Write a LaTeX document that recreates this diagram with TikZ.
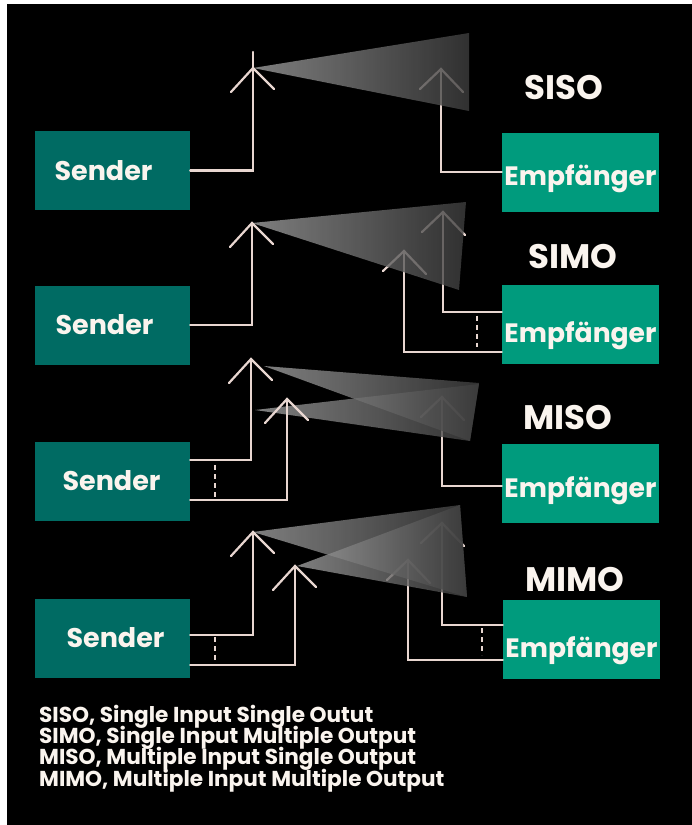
\documentclass[tikz,border=0pt]{standalone}
\usepackage{fontspec}
\setmainfont{Poppins}
\definecolor{senderfarbe}{RGB}{0,107,99}
\definecolor{empffarbe}{RGB}{0,155,125}
\definecolor{leitung}{RGB}{232,214,208}
\definecolor{schrift}{RGB}{250,244,238}
\newcommand\legendenschrift{\fontsize{21.6}{21.2}\selectfont\bfseries\lineskiplimit=-20pt\relax}

\begin{document}
\begin{tikzpicture}[x=1pt, y=-1pt, line cap=round,
	sbox/.style={fill=senderfarbe, minimum width=155pt, minimum height=79pt, inner sep=0pt},
	ebox/.style={sbox, fill=empffarbe, minimum width=157pt},
	sname/.style={text=schrift, inner sep=0pt, font=\fontsize{27}{27}\selectfont\bfseries},
	ename/.style={sname, text depth=0pt, font=\fontsize{26.6}{27}\selectfont\bfseries},
	ant/.style={draw=leitung, line width=2.2pt},
	strich/.style={ant, dash pattern=on 5pt off 4pt, line cap=butt},
	beam/.style={left color=black!38, right color=black!76, fill opacity=0.8},
	mode/.style={text=schrift, font=\fontsize{34}{34}\selectfont\bfseries}]
	% 1. 背景 (白边 + 黑底)
	\fill[white] (0,0) rectangle (692,825);
	\fill[black] (7,4) rectangle (692,825);
	\useasboundingbox (0,0) rectangle (692,825);
	
	% 2. 发送端与接收端方框 (文字略有偏移)
	\node[sbox, label={[sname, xshift=-9pt]center:Sender}] (s1) at (112.5,170.5) {};
	\node[sbox, label={[sname, xshift=-8pt]center:Sender}] (s2) at (112.5,325) {};
	\node[sbox, label={[sname, xshift=-1pt]center:Sender}] (s3) at (112.5,481) {};
	\node[sbox, label={[sname, xshift=3pt]center:Sender}] (s4) at (112.5,638) {};
	\node[ebox, label={[ename, yshift=-3pt]center:Empfänger}] (e1) at (580.5,172) {};
	\node[ebox, label={[ename, yshift=-8pt]center:Empfänger}] (e2) at (580.5,324.5) {};
	\node[ebox, label={[ename, yshift=-4pt]center:Empfänger}] (e3) at (580.5,483) {};
	\node[ebox, label={[ename, yshift=-8pt]center:Empfänger}] (e4) at (581.5,639) {};
	
	% 3. 天线顶点
	\coordinate (t1) at (253,68);
	\coordinate (t2) at (252,223);
	\coordinate (t3a) at (251,359);
	\coordinate (t3b) at (287,399);
	\coordinate (t4a) at (253,532);
	\coordinate (t4b) at (295,566);
	\coordinate (r1) at (441,69);
	\coordinate (r2a) at (443,212);
	\coordinate (r2b) at (404,251);
	\coordinate (r3) at (442,397);
	\coordinate (r4a) at (442,523);
	\coordinate (r4b) at (408,560);
	
	% 4. 接收天线 (在波束下面)
	\draw[ant] (e1.west) -| (r1);
	\draw[ant] ([yshift=12.5pt]e2.west) -| (r2a);
	\draw[ant] ([yshift=-27.5pt]e2.west) -| (r2b);
	\draw[strich] ([xshift=-25pt, yshift=9pt]e2.west) -- ([xshift=-25pt, yshift=-22pt]e2.west);
	\draw[ant] ([yshift=-3pt]e3.west) -| (r3);
	\draw[ant] ([yshift=14pt]e4.west) -| (r4a);
	\draw[ant] ([yshift=-21pt]e4.west) -| (r4b);
	\draw[strich] ([xshift=-21pt, yshift=11pt]e4.west) -- ([xshift=-21pt, yshift=-16pt]e4.west);
	\foreach \a in {r1,r2a,r2b,r3,r4a,r4b}
		\draw[ant] (\a) ++(-21,20) -- (\a) -- ++(22,23);
	
	% 5. 波束
	\shade[beam] (t1) -- (469,33) -- (469,111) -- cycle;
	\shade[beam] (t2) -- (466,202) -- (459,290) -- cycle;
	\shade[beam] ([xshift=13pt, yshift=-7pt]t3a) -- (479,383) -- (470,441) -- cycle;
	\shade[beam] ([xshift=-32pt, yshift=-11pt]t3b) -- (479,384) -- (470,441) -- cycle;
	\shade[beam] (t4a) -- (460,505) -- (467,597) -- cycle;
	\shade[beam] ([xshift=2pt]t4b) -- (460,505) -- (467,597) -- cycle;
	
	% 6. 发射天线与连线
	\draw[ant] (s1.east) -| (t1) -- ++(0,-16);
	\draw[ant] (s2.east) -| (t2);
	\draw[ant] ([yshift=21pt]s3.east) -| (t3a);
	\draw[ant] ([yshift=-19pt]s3.east) -| (t3b);
	\draw[strich] ([xshift=25pt, yshift=16pt]s3.east) -- ([xshift=25pt, yshift=-16pt]s3.east);
	\draw[ant] ([yshift=3pt]s4.east) -| (t4a);
	\draw[ant] ([yshift=-27pt]s4.east) -| (t4b);
	\draw[strich] ([xshift=25pt, yshift=1pt]s4.east) -- ([xshift=25pt, yshift=-25pt]s4.east);
	\foreach \a in {t1,t2,t3a,t3b,t4a,t4b}
		\draw[ant] (\a) ++(-22,24) -- (\a) -- ++(21,21);
	
	% 7. 制式标签
	\node[mode] (siso) at (564,88) {SISO};
	\node[mode] (simo) at (573,257) {SIMO};
	\node[mode] (miso) at (568,418) {MISO};
	\node[mode] (mimo) at (575,580) {MIMO};
	
	% 8. 图例
	\node[anchor=north west, align=left, inner sep=0pt, text=schrift, font=\legendenschrift] (legende) at (39,705)
		{SISO, Single Input Single Outut\\
		 SIMO, Single Input Multiple Output\\
		 MISO, Multiple Input Single Output\\
		 MIMO, Multiple Input Multiple Output};
\end{tikzpicture}
\end{document}
